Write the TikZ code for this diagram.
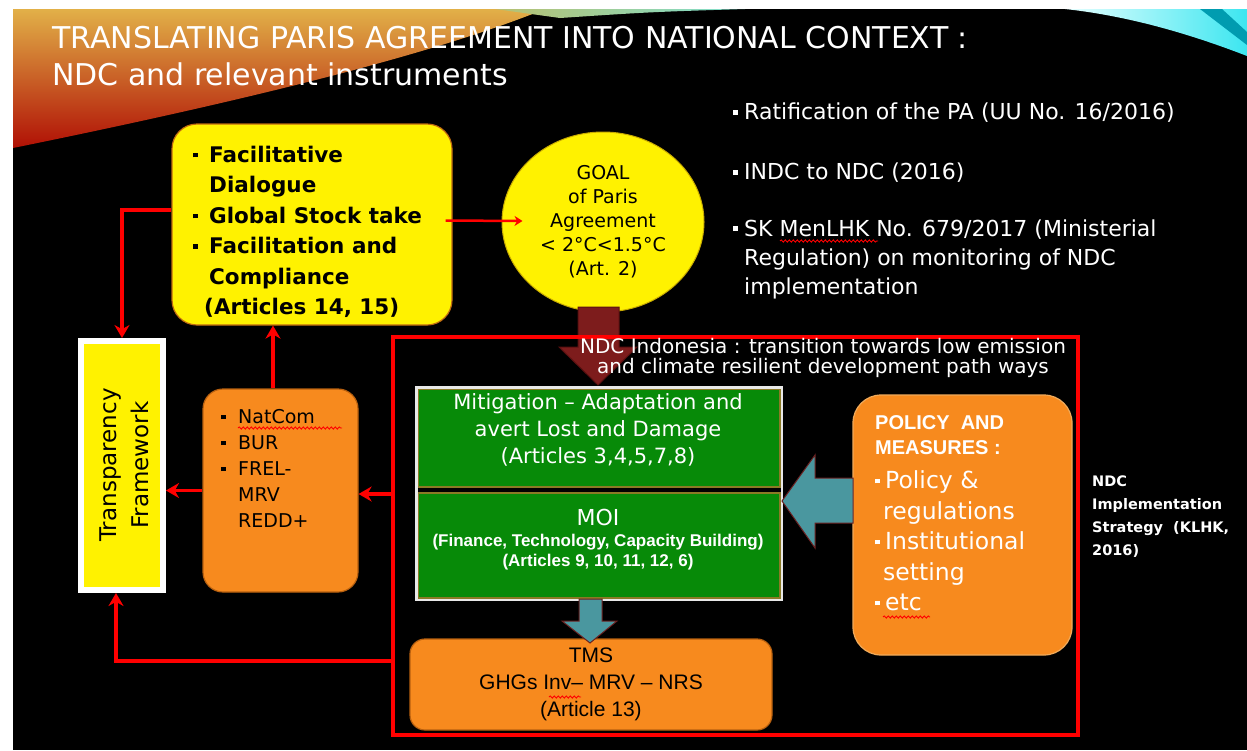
\documentclass[tikz,border=0pt]{standalone}
\usepackage{fontspec}
\setmainfont{DejaVu Sans}
\newfontfamily\lib[Ligatures=TeX]{Liberation Sans}
\usetikzlibrary{arrows.meta,calc,fit,shapes.geometric,decorations.pathmorphing}
\definecolor{orfill}{HTML}{F78A1E}
\definecolor{orline}{HTML}{B8600F}
\definecolor{pollin}{HTML}{F0AA5A}
\definecolor{grfill}{HTML}{078A08}
\definecolor{grline}{HTML}{8A7A25}
\definecolor{grpline}{HTML}{E8E8E8}
\definecolor{tealc}{HTML}{4A979F}
\definecolor{tealline}{HTML}{6A2020}
\definecolor{maroon}{HTML}{7D1C1C}
\definecolor{maroonline}{HTML}{5A1010}
\definecolor{ylline}{HTML}{C06A10}
\definecolor{goalline}{HTML}{C8AA00}
\definecolor{swA}{HTML}{E2B048}
\definecolor{swB}{HTML}{E87010}
\definecolor{swC}{HTML}{B01005}
\definecolor{gnA}{HTML}{B8C070}
\definecolor{gnB}{HTML}{0B6B2A}
\definecolor{gnC}{HTML}{7FE0D0}
\definecolor{cyA}{HTML}{E6FFFF}
\definecolor{cyB}{HTML}{3CE6F0}
\definecolor{cyC}{HTML}{009CB0}
\newcommand\fsz[2]{\fontsize{#1}{#2}\selectfont}
\newcommand\wbul{\makebox[11pt][l]{\rule[5pt]{5pt}{5pt}}}
\newcommand\pbul{\makebox[10pt][l]{\rule[5.5pt]{4.5pt}{4.5pt}}}
\newcommand\kbul{\makebox[17pt][l]{\rule[4pt]{4.5pt}{4.5pt}}}
\newcommand\ybul{\makebox[16pt][l]{\rule[5pt]{4.5pt}{4.5pt}}}
\tikzset{
  redarr/.style={draw=red, line width=3.5pt, -{Stealth[length=13pt,width=15pt]}},
  smallarr/.style={draw=red, line width=2.5pt, -{Stealth[length=8pt,width=10pt]}},
  orbox/.style={rectangle, fill=orfill, draw=orline, line width=1.2pt, inner sep=0pt},
  grbox/.style={rectangle, fill=grfill, draw=grline, line width=1.5pt, inner sep=0pt, minimum width=362pt},
  txt/.style={inner sep=0pt, align=left},
  ctxt/.style={inner sep=0pt, align=center},
  spell/.style={draw=red, line width=0.9pt, decorate, decoration={snake, amplitude=1.1pt, segment length=4pt}},
  blockarr/.style={line width=1pt, line join=miter},
}
\begin{document}
\begin{tikzpicture}[x=1pt,y=-1pt]
\useasboundingbox (0,0) rectangle (1247,750);
% background
\fill[white] (0,0) rectangle (1247,750);
\fill[black] (13,9) rectangle (1247,750);
% top decorations
\shade[top color=swA, middle color=swB, bottom color=swC]
  (13,9) -- (545,9) .. controls (420,60) and (200,110) .. (13,148) -- cycle;
\shade[left color=gnA, middle color=gnB, right color=gnC]
  (495,9) -- (745,9) .. controls (650,12) .. (560,18) -- cycle;
\shade[left color=cyA, right color=cyB]
  (1065,9) -- (1247,9) -- (1247,56) .. controls (1180,30) and (1120,15) .. (1065,9) -- cycle;
\fill[cyC] (1200,9) -- (1222,9) -- (1247,32) -- (1247,45) -- cycle;

% title
\node[anchor=base west, inner sep=0pt, text=white, font=\fsz{30}{36}] (t1) at (52,48) {TRANSLATING PARIS AGREEMENT INTO NATIONAL CONTEXT :};
\node[anchor=base west, inner sep=0pt, text=white, font=\fsz{30}{36}] (t2) at (52,85) {NDC and relevant instruments};

% right texts
\node[txt, anchor=west, text=white, font=\fsz{22}{29}] (r1) at (733,113) {\wbul Ratification of the PA (UU No. 16/2016)};
\node[txt, anchor=west, text=white, font=\fsz{22}{29}] (r2) at (733,173) {\wbul INDC to NDC (2016)};
\node[txt, anchor=west, text=white, font=\fsz{22}{29}] (r3) at (733,259) {\wbul SK MenLHK No. 679/2017 (Ministerial\\\hspace*{11pt}Regulation) on monitoring of NDC\\\hspace*{11pt}implementation};

% facilitative box
\node[rectangle, rounded corners=25pt, fill=yellow, draw=ylline, line width=1.2pt, minimum width=280pt, minimum height=201pt, inner sep=0pt] (fac) at (312,224.5) {};
\node[txt, anchor=west, font=\fsz{21.5}{30.5}\bfseries] (factxt) at (193,232) {\ybul Facilitative\\\hspace*{16pt}Dialogue\\\ybul Global Stock take\\\ybul Facilitation and\\\hspace*{16pt}Compliance\\\hspace*{11pt}(Articles 14, 15)};

% goal circle
\node[ellipse, fill=yellow, draw=goalline, line width=1pt, minimum width=202pt, minimum height=180pt, inner sep=0pt, align=center, font=\fsz{19}{24}] (goal) at (603,222) {GOAL\\of Paris\\Agreement\\< 2°C<1.5°C\\(Art. 2)};
\draw[smallarr] ($(fac.east)+(-7,-4)$) -- ($(goal.west)+(21,-1)$);

% maroon block arrow
\filldraw[blockarr, fill=maroon, draw=maroonline] (578,307) -- (619,307) -- (619,347) -- (637,347) -- (598,385) -- (559,347) -- (578,347) -- cycle;

% frame
\node[rectangle, draw=red, line width=4pt, outer sep=0pt, inner sep=0pt, minimum width=685pt, minimum height=398pt] (frame) at (735.5,536) {};
\node[ctxt, text=white, font=\fsz{20}{20}] (ndctxt) at (823,358) {NDC Indonesia : transition towards low emission\\and climate resilient development path ways};

% green boxes
\node[grbox, minimum height=98pt] (mit) at (599,438) {};
\node[grbox, minimum height=105pt] (moi) at (599,545.5) {};
\node[draw=grpline, line width=2.5pt, inner sep=1pt, fit=(mit)(moi)] (grp) {};
\node[ctxt, text=white, font=\fsz{21}{27}] (mittxt) at (598,430) {Mitigation – Adaptation and\\avert Lost and Damage\\(Articles 3,4,5,7,8)};
\node[ctxt, text=white, font=\fsz{22}{26}] (moit) at (598,517) {MOI};
\node[ctxt, text=white, font=\lib\fsz{17}{20}\bfseries] (mois) at (598,552) {(Finance, Technology, Capacity Building)\\(Articles 9, 10, 11, 12, 6)};

% TMS box
\node[orbox, rounded corners=15pt, minimum width=362pt, minimum height=91pt, align=center, font=\lib\fsz{21}{27}] (tms) at (591,684.5) {TMS\\GHGs Inv– MRV – NRS\\(Article 13)};
\filldraw[blockarr, fill=tealc, draw=tealline] (579,599) -- (602,599) -- (602,621) -- (617,621) -- (590,643) -- (562,621) -- (579,621) -- cycle;

% policy box
\node[orbox, draw=pollin, rounded corners=28pt, minimum width=219pt, minimum height=260pt] (pol) at (962.5,525) {};
\filldraw[blockarr, fill=tealc, draw=tealline] (853,478) -- (815,478) -- (815,455) -- (782,501) -- (815,548) -- (815,523) -- (853,523) -- cycle;
\node[txt, anchor=west, text=white, font=\lib\fsz{20}{25}\bfseries] (poltitle) at (875,435.5) {POLICY~~AND\\MEASURES :};
\node[txt, anchor=west, text=white, font=\fsz{23.5}{30.5}] (polbody) at (875,541) {\pbul Policy \&\\\hspace*{8pt}regulations\\\pbul Institutional\\\hspace*{8pt}setting\\\pbul etc};

% NatCom box
\node[orbox, rounded corners=20pt, minimum width=155pt, minimum height=203pt] (nat) at (280.5,490.5) {};
\node[txt, anchor=west, font=\fsz{19}{26}] (nattxt) at (221,468) {\kbul NatCom\\\kbul BUR\\\kbul FREL-\\\hspace*{17pt}MRV\\\hspace*{17pt}REDD+};

% transparency framework
\node[rectangle, fill=yellow, draw=white, line width=6pt, minimum width=82pt, minimum height=249pt, inner sep=0pt] (trans) at (122,465.5) {};
\node[ctxt, rotate=90, font=\fsz{23}{32}] (transtxt) at (124,465) {Transparency\\Framework};

% implementation strategy note
\node[txt, anchor=west, text=white, font=\fsz{14.5}{23}\bfseries] (impl) at (1092,517) {NDC\\Implementation\\Strategy~~(KLHK,\\2016)};

% red connectors
\coordinate (natTop) at ($(nat.north)+(-7.5,0)$);
\draw[redarr] (natTop) -- (natTop |- fac.south);
\draw[redarr] (nat.west) -- (nat.west -| trans.east);
\coordinate (facL) at ($(fac.west)+(0,-14.5)$);
\draw[redarr] (facL) -| (trans.north);
\coordinate (frA) at ($(frame.west)+(0,-42)$);
\draw[redarr] (frA) -- (frA -| nat.east);
\coordinate (frB) at ($(frame.west)+(0,125)$);
\draw[redarr] (frB) -| ($(trans.south)+(-6,0)$);

% spell-check squiggles
\draw[spell] (780,241) -- (878,241);
\draw[spell] (238,428) -- (342,428);
\draw[spell] (883,617) -- (930,617);
\draw[spell] (549,697) -- (581,697);
\end{tikzpicture}
\end{document}
